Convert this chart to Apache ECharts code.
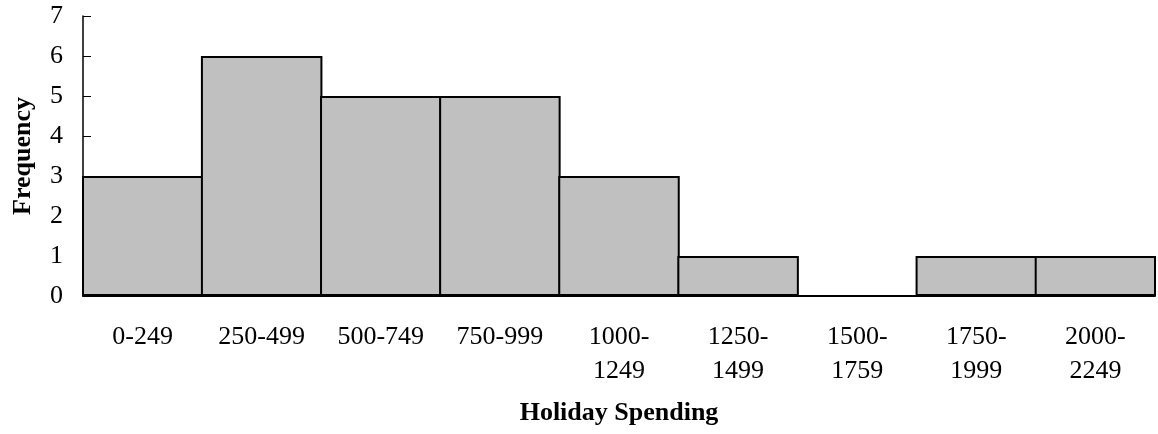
<!DOCTYPE html>
<html>
<head>
<meta charset="utf-8">
<script src="https://cdn.jsdelivr.net/npm/echarts@6/dist/echarts.min.js"></script>
<style>
  html, body { margin: 0; padding: 0; background: #fff; }
  #chart { width: 1158px; height: 434px; }
</style>
</head>
<body>
<div id="chart"></div>
<script>
const categories = ['0-249', '250-499', '500-749', '750-999', '1000-\n1249', '1250-\n1499', '1500-\n1759', '1750-\n1999', '2000-\n2249'];
const frequency = [3, 6, 5, 5, 3, 1, 0, 1, 1];
const yMin = 0, yMax = 7, yStep = 1;

const serif = "'Liberation Serif', 'Times New Roman', serif";
const chart = echarts.init(document.getElementById('chart'));

chart.setOption({
  animation: false,
  grid: { left: 80, right: 3, top: 16, bottom: 138 },
  xAxis: {
    type: 'category',
    data: categories,
    name: 'Holiday Spending',
    nameLocation: 'middle',
    nameGap: 102,
    nameTextStyle: { fontFamily: serif, fontSize: 26, fontWeight: 'bold', color: '#000', lineHeight: 30 },
    axisLine: { lineStyle: { color: '#000', width: 2 } },
    axisTick: { show: false },
    axisLabel: { interval: 0, margin: 24, fontFamily: serif, fontSize: 26, lineHeight: 34, color: '#000' }
  },
  yAxis: {
    type: 'value',
    min: yMin,
    max: yMax,
    interval: yStep,
    name: 'Frequency',
    nameLocation: 'middle',
    nameGap: 45,
    nameTextStyle: { fontFamily: serif, fontSize: 26, fontWeight: 'bold', color: '#000', lineHeight: 30 },
    axisLine: { show: true, lineStyle: { color: '#000', width: 1.5 } },
    axisTick: { show: true, inside: true, length: 8, lineStyle: { color: '#000' } },
    splitLine: { show: false },
    axisLabel: { margin: 20, fontFamily: serif, fontSize: 26, color: '#000' }
  },
  series: [{
    type: 'bar',
    data: frequency,
    barWidth: 121.5,
    itemStyle: { color: '#C0C0C0', borderColor: '#000', borderWidth: 2 }
  }]
});
</script>
</body>
</html>
